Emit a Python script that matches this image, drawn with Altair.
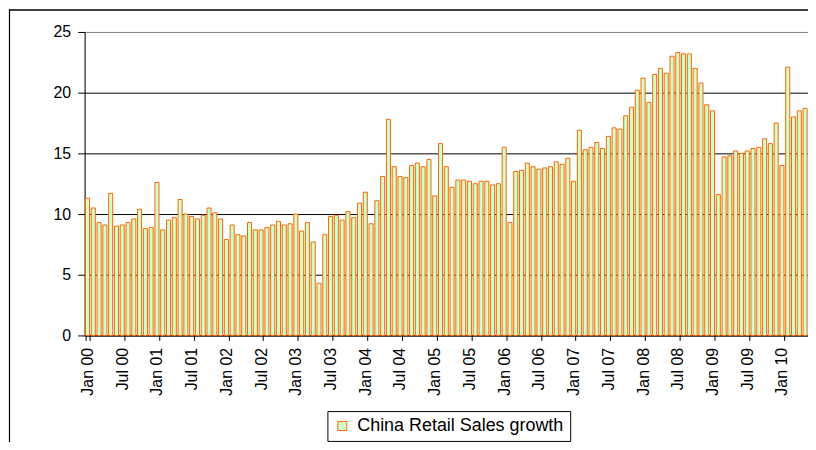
import altair as alt
import pandas as pd

# ---- data (China retail sales growth, % y/y) ----
month_names = ["Jan", "Feb", "Mar", "Apr", "May", "Jun",
               "Jul", "Aug", "Sep", "Oct", "Nov", "Dec"]
years = ["00", "01", "02", "03", "04", "05", "06", "07", "08", "09", "10"]

growth_2000 = [11.3, 10.5, 9.3, 9.1, 11.7, 9.0, 9.1, 9.3, 9.6, 10.4, 8.8, 8.9]
growth_2001 = [12.6, 8.7, 9.5, 9.7, 11.2, 10.0, 9.8, 9.6, 9.9, 10.5, 10.1, 9.6]
growth_2002 = [7.9, 9.1, 8.3, 8.2, 9.3, 8.7, 8.7, 8.9, 9.1, 9.4, 9.1, 9.2]
growth_2003 = [10.0, 8.6, 9.3, 7.7, 4.3, 8.3, 9.8, 9.9, 9.5, 10.2, 9.7, 10.9]
growth_2004 = [11.8, 9.2, 11.1, 13.1, 17.8, 13.9, 13.1, 13.0, 14.0, 14.2, 13.9, 14.5]
growth_2005 = [11.5, 15.8, 13.9, 12.2, 12.8, 12.8, 12.7, 12.5, 12.7, 12.7, 12.4, 12.5]
growth_2006 = [15.5, 9.3, 13.5, 13.6, 14.2, 13.9, 13.7, 13.8, 13.9, 14.3, 14.1, 14.6]
growth_2007 = [12.7, 16.9, 15.3, 15.5, 15.9, 15.4, 16.4, 17.1, 17.0, 18.1, 18.8, 20.2]
growth_2008 = [21.2, 19.2, 21.5, 22.0, 21.6, 23.0, 23.3, 23.2, 23.2, 22.0, 20.8, 19.0]
growth_2009 = [18.5, 11.6, 14.7, 14.8, 15.2, 15.0, 15.2, 15.4, 15.5, 16.2, 15.8, 17.5]
growth_2010 = [14.0, 22.1, 18.0, 18.5, 18.7]

series_name = "China Retail Sales growth"
y_ticks = [0, 5, 10, 15, 20, 25]

yearly = [growth_2000, growth_2001, growth_2002, growth_2003, growth_2004,
          growth_2005, growth_2006, growth_2007, growth_2008, growth_2009,
          growth_2010]

categories = []
values = []
for yy, vals in zip(years, yearly):
    for m, v in zip(month_names, vals):
        categories.append(f"{m} {yy}")
        values.append(v)

tick_labels = categories[::6]

df = pd.DataFrame({"month": categories, "growth": values, "series": series_name})
frame_df = pd.DataFrame({"k": [0]})

FONT = "Liberation Sans"

bars = alt.Chart(df).mark_bar(stroke="#FF6600", strokeWidth=1, opacity=1).encode(
    x=alt.X(
        "month:N",
        sort=categories,
        scale=alt.Scale(paddingInner=0.3, paddingOuter=0.15),
        axis=alt.Axis(
            values=tick_labels,
            title=None,
            labelAngle=-90,
            labelFontSize=16,
            labelFont=FONT,
            labelColor="black",
            labelPadding=7,
            labelOverlap=False,
            tickBand="extent",
            tickSize=5,
            tickColor="black",
            domainColor="black",
            grid=False,
        ),
    ),
    y=alt.Y(
        "growth:Q",
        scale=alt.Scale(domain=[0, 25], nice=False),
        axis=alt.Axis(
            values=y_ticks,
            title=None,
            labelFontSize=16,
            labelFont=FONT,
            labelColor="black",
            labelPadding=7,
            tickSize=7,
            tickColor="black",
            domainColor="black",
            grid=True,
            gridColor={"condition": {"test": "datum.value === 25", "value": "#808080"},
                       "value": "#000000"},
            gridWidth=1,
        ),
    ),
    color=alt.Color(
        "series:N",
        scale=alt.Scale(range=["#CCFFCC"]),
        legend=alt.Legend(
            title=None,
            orient="none",
            legendX=244,
            legendY=381,
            direction="horizontal",
            symbolType="square",
            symbolSize=81,
            symbolStrokeColor="#FF6600",
            symbolStrokeWidth=1,
            symbolOpacity=1,
            labelFontSize=18,
            labelFont=FONT,
            labelColor="black",
            labelLimit=400,
            labelOffset=6,
            padding=6,
            strokeColor="#000000",
            fillColor="white",
            cornerRadius=0,
        ),
    ),
)

left_frame = alt.Chart(frame_df).mark_rule(color="black", strokeWidth=1.2).encode(
    x=alt.value(-75.5), y=alt.value(-23), y2=alt.value(420)
)
top_frame = alt.Chart(frame_df).mark_rule(color="black", strokeWidth=1.5).encode(
    x=alt.value(-76), x2=alt.value(740), y=alt.value(-22)
)

chart = alt.layer(bars, left_frame, top_frame).properties(
    width=727,
    height=305,
    padding={"left": 77, "top": 23, "right": 0, "bottom": 106},
    autosize=alt.AutoSizeParams(type="none"),
    background="white",
).configure_view(stroke="#808080", strokeWidth=1).configure(font=FONT)

chart.save("out.html", embed_options={"renderer": "svg", "actions": False})
